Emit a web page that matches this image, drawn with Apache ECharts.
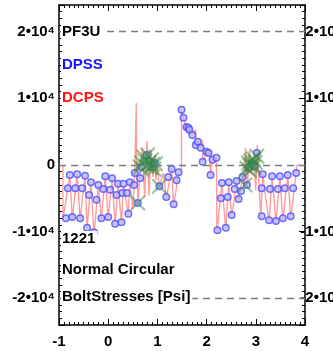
<!DOCTYPE html>
<html>
<head>
<meta charset="utf-8">
<script src="https://cdn.jsdelivr.net/npm/echarts@6/dist/echarts.min.js"></script>
<style>
  html, body { margin: 0; padding: 0; background: #ffffff; }
  #chart { width: 333px; height: 351px; }
</style>
</head>
<body>
<div id="chart"></div>
<script>
// Axis ranges and tick labels
const xRange = [-1, 4];
const yRange = [-24000, 24000];
const yTickValues = [-20000, -10000, 0, 10000, 20000];
const yTickLabels = ['-2•10⁴', '-1•10⁴', '0', '1•10⁴', '2•10⁴'];
const refLevels = [20000, 0, -20000];

// Legend and caption text
const seriesNames = ['PF3U', 'DPSS', 'DCPS'];
const captionLines = ['1221', 'Normal Circular', 'BoltStresses [Psi]'];

// DPSS bolt stresses [position, psi]
const dpss = [
  [-0.86, -8000], [-0.82, -3500], [-0.78, -1500],
  [-0.73, -7800], [-0.67, -3500], [-0.63, -1400],
  [-0.57, -8000], [-0.53, -3500], [-0.47, -1600],
  [-0.43, -9400], [-0.39, -4500], [-0.35, -2600],
  [-0.29, -10100], [-0.24, -5200], [-0.20, -3000],
  [-0.14, -8000], [-0.10, -3600], [-0.06, -1700],
  [0.00, -7800], [0.04, -3700], [0.08, -2000],
  [0.14, -8800], [0.17, -4500], [0.20, -2800],
  [0.27, -8600], [0.29, -4200], [0.31, -2800],
  [0.41, -7300], [0.38, -4200], [0.44, -2600],
  [0.53, -3000], [0.54, -1200],
  [0.60, -5700], [0.65, -2000], [0.67, -300], [0.78, 1500], [0.84, 500], [0.90, -300], [0.95, 300],
  [1.04, -3200],
  [1.18, -4800], [1.22, -1800], [1.29, -600],
  [1.33, -5900], [1.39, -2300], [1.43, -1100],
  [1.49, 8300], [1.53, 7100], [1.59, 5700], [1.63, 5600], [1.65, 5300], [1.71, 4500],
  [1.78, 3000], [1.82, 3500], [1.88, 2600], [1.92, 500], [2.00, 2000], [2.04, 1800],
  [2.08, -1500], [2.12, 800], [2.20, 1100],
  [2.22, -9800], [2.29, -5000], [2.31, -2700],
  [2.39, -9400], [2.43, -4800], [2.45, -2600],
  [2.51, -7500], [2.57, -3600], [2.61, -2400],
  [2.65, -5100], [2.70, -3900], [2.73, -1800],
  [2.82, -3000], [2.86, -500], [2.92, 300], [2.97, -200], [3.02, 1800],
  [3.12, -7700], [3.12, -3500], [3.14, -1400],
  [3.27, -8300], [3.29, -3600], [3.33, -1700],
  [3.41, -8400], [3.45, -3600], [3.49, -1700],
  [3.55, -8000], [3.59, -3500], [3.65, -1500],
  [3.71, -7700], [3.76, -3500], [3.82, -1200]
];

// DCPS stress trace [position, psi]
const dcps = [
  [-0.92, 0], [-0.92, -8200], [-0.78, -1500], [-0.73, -8000], [-0.63, -1400],
  [-0.57, -8200], [-0.47, -1600], [-0.43, -9600], [-0.35, -2600], [-0.29, -10600],
  [-0.20, -3000], [-0.14, -8200], [-0.06, -1700], [0.00, -8000], [0.08, -2000],
  [0.14, -9000], [0.20, -2800], [0.27, -8800], [0.31, -2800], [0.41, -7500],
  [0.44, -2600], [0.50, -6600], [0.54, -1200], [0.57, 9300], [0.58, -1000],
  [0.61, -5800], [0.65, -200], [0.70, 2600], [0.74, -4800], [0.79, 3600],
  [0.83, -4600], [0.87, 2200], [0.91, -1800], [0.95, 1500], [0.97, -2300],
  [0.99, 0], [1.04, -3300], [1.12, -1200], [1.18, -5000], [1.29, -600],
  [1.33, -6200], [1.43, -1100], [1.49, -800], [1.49, 8300], [1.53, 7100],
  [1.59, 5700], [1.61, 4900], [1.63, 5600], [1.65, 5300], [1.71, 4500],
  [1.78, 5300], [1.78, 3000], [1.82, 3500], [1.88, 2600], [1.92, 3700],
  [1.92, 500], [2.00, 2000], [2.04, 1800], [2.07, 2300], [2.08, -1500],
  [2.12, 800], [2.20, 1100], [2.21, -10300], [2.31, -2700], [2.39, -9700],
  [2.45, -2600], [2.51, -7800], [2.61, -2400], [2.65, -5400], [2.73, -1800],
  [2.76, -3200], [2.79, 2600], [2.83, -3300], [2.87, 2100], [2.91, -1200],
  [2.96, 1000], [3.00, -3800], [3.03, 3000], [3.06, -2000], [3.10, -8000],
  [3.14, -1400], [3.27, -8600], [3.33, -1700], [3.41, -8700], [3.49, -1700],
  [3.55, -8300], [3.65, -1500], [3.71, -8000], [3.82, -1200], [3.84, 0], [3.90, 0]
];

// PF3U bolt stresses [position, psi]
const pf3u = [
  [0.60, -5700], [0.65, -300], [0.68, 300], [0.72, 1200], [0.75, 600],
  [0.78, -200], [0.80, 1500], [0.83, 300], [0.86, -400], [0.88, 800],
  [0.90, 100], [0.93, -600], [0.96, 200], [1.04, -3200],
  [2.78, -3000], [2.82, -500], [2.85, 300], [2.88, -100], [2.90, 600],
  [2.93, 100], [2.96, -300], [2.99, 400], [3.02, 1300], [2.95, 900], [2.87, -800]
];

const FONT = 'Liberation Sans, Arial, Helvetica, sans-serif';
const crossPath = 'path://M0,1 L1,0 L10,9 L9,10 Z M9,0 L10,1 L1,10 L0,9 Z';

function yLabel(v) {
  const i = yTickValues.indexOf(v);
  return i >= 0 ? yTickLabels[i] : '';
}

const labelStyle = { color: '#000', fontFamily: FONT, fontWeight: 'bold', fontSize: 15 };

const majorY = (pos) => ({
  type: 'value', position: pos, min: yRange[0], max: yRange[1], splitNumber: 5,
  axisLine: { show: true, onZero: false, lineStyle: { color: '#000', width: 1.5 } },
  axisTick: { show: true, inside: true, length: 6, lineStyle: { color: '#000', width: 1 } },
  splitLine: { show: false },
  axisLabel: Object.assign({ show: true, margin: pos === 'left' ? 4 : 38,
    align: 'right', formatter: yLabel }, labelStyle)
});
const minorY = (pos) => ({
  type: 'value', position: pos, min: yRange[0], max: yRange[1], interval: 1000,
  axisLine: { show: false, onZero: false }, splitLine: { show: false }, axisLabel: { show: false },
  axisTick: { show: true, inside: true, length: 3, lineStyle: { color: '#000', width: 1 } }
});
const xAx = (pos, labels) => ({
  type: 'value', position: pos, min: xRange[0], max: xRange[1], interval: 1,
  axisLine: { show: true, onZero: false, lineStyle: { color: '#000', width: 1.5 } },
  axisTick: { show: true, inside: true, length: 6, lineStyle: { color: '#000', width: 1 } },
  minorTick: { show: true, splitNumber: 10, length: 3, lineStyle: { color: '#000', width: 1 } },
  splitLine: { show: false },
  axisLabel: Object.assign({ show: labels, margin: 9 }, labelStyle)
});

const chart = echarts.init(document.getElementById('chart'), null, { renderer: 'canvas' });

const graphics = [];
seriesNames.forEach((t, i) => {
  graphics.push({
    type: 'text', left: 61, top: 24 + i * 33, z: 100,
    style: { text: t, fill: ['#000000', '#1414ff', '#ff1414'][i], font: 'bold 15px ' + FONT,
      backgroundColor: '#fff', padding: [0, 2, 0, 1] }
  });
});
captionLines.forEach((t, i) => {
  graphics.push({
    type: 'text', left: 61, top: [231, 262, 289][i], z: 100,
    style: { text: t, fill: '#000', font: 'bold 15px ' + FONT,
      backgroundColor: '#fff', padding: [0, 2, 0, 1] }
  });
});

chart.setOption({
  animation: false,
  backgroundColor: '#fff',
  grid: { left: 59, right: 28, top: 5, bottom: 26, containLabel: false, outerBoundsMode: 'none' },
  xAxis: [xAx('bottom', true), xAx('top', false)],
  yAxis: [majorY('left'), majorY('right'), minorY('left'), minorY('right')],
  graphic: graphics,
  series: [
    {
      name: 'ref', type: 'line', data: [], z: 1,
      markLine: {
        silent: true, symbol: 'none', label: { show: false },
        lineStyle: { color: '#7a7a7a', width: 1.3, type: [7, 5] },
        data: refLevels.map(v => ({ yAxis: v }))
      }
    },
    {
      name: 'DCPS', type: 'line', data: dcps, z: 2, symbol: 'none',
      lineStyle: { color: 'rgba(255,60,60,0.5)', width: 1.4 }
    },
    {
      name: 'DPSS', type: 'scatter', data: dpss, z: 3, symbol: 'circle', symbolSize: 6.5,
      itemStyle: { color: 'rgba(185,185,255,0.95)', borderColor: '#4d4dff', borderWidth: 1.5 }
    },
    {
      name: 'PF3U', type: 'scatter', data: pf3u, z: 4, symbol: crossPath, symbolSize: 16,
      itemStyle: { color: 'rgba(45,140,55,0.6)' }
    }
  ]
});
</script>
</body>
</html>
